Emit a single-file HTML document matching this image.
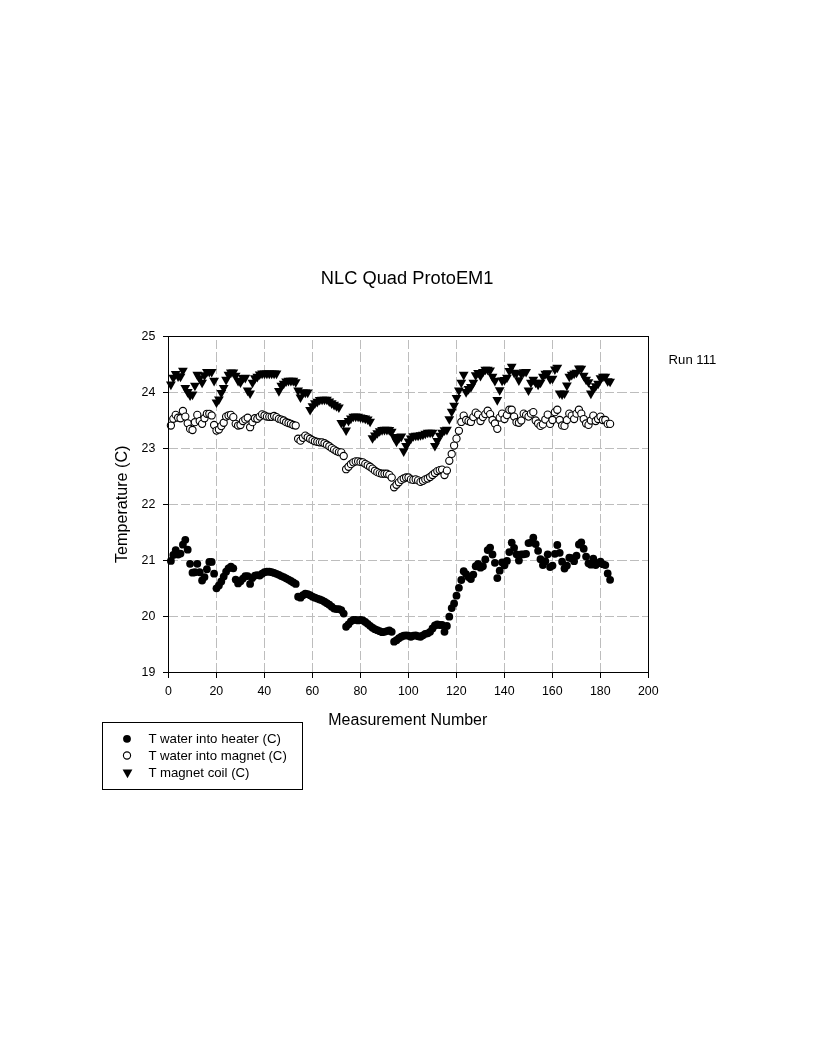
<!DOCTYPE html>
<html lang="en"><head><meta charset="utf-8"><title>NLC Quad ProtoEM1</title>
<style>html,body{margin:0;padding:0;background:#fff}svg{display:block}text{font-family:"Liberation Sans", Arial, Helvetica, sans-serif;fill:#000}</style>
</head><body>
<svg width="816" height="1056" viewBox="0 0 816 1056">
<rect x="0" y="0" width="816" height="1056" fill="#fff"/>
<g stroke="#bdbdbd" stroke-width="1" stroke-dasharray="9.44 3" shape-rendering="crispEdges" fill="none">
<line x1="216.5" y1="672.5" x2="216.5" y2="336.5"/>
<line x1="264.5" y1="672.5" x2="264.5" y2="336.5"/>
<line x1="312.5" y1="672.5" x2="312.5" y2="336.5"/>
<line x1="360.5" y1="672.5" x2="360.5" y2="336.5"/>
<line x1="408.5" y1="672.5" x2="408.5" y2="336.5"/>
<line x1="456.5" y1="672.5" x2="456.5" y2="336.5"/>
<line x1="504.5" y1="672.5" x2="504.5" y2="336.5"/>
<line x1="552.5" y1="672.5" x2="552.5" y2="336.5"/>
<line x1="600.5" y1="672.5" x2="600.5" y2="336.5"/>
<line x1="168.5" y1="616.5" x2="648.5" y2="616.5" stroke-dasharray="9.47 3"/>
<line x1="168.5" y1="560.5" x2="648.5" y2="560.5" stroke-dasharray="9.47 3"/>
<line x1="168.5" y1="504.5" x2="648.5" y2="504.5" stroke-dasharray="9.47 3"/>
<line x1="168.5" y1="448.5" x2="648.5" y2="448.5" stroke-dasharray="9.47 3"/>
<line x1="168.5" y1="392.5" x2="648.5" y2="392.5" stroke-dasharray="9.47 3"/>
</g>
<g fill="#000" stroke="none">
<circle cx="170.90" cy="560.89" r="3.90"/>
<circle cx="173.30" cy="555.01" r="3.90"/>
<circle cx="175.70" cy="550.08" r="3.90"/>
<circle cx="178.10" cy="554.51" r="3.90"/>
<circle cx="180.50" cy="553.56" r="3.90"/>
<circle cx="182.90" cy="544.71" r="3.90"/>
<circle cx="185.30" cy="539.84" r="3.90"/>
<circle cx="187.70" cy="549.64" r="3.90"/>
<circle cx="190.10" cy="563.86" r="3.90"/>
<circle cx="192.50" cy="572.65" r="3.90"/>
<circle cx="194.90" cy="572.26" r="3.90"/>
<circle cx="197.30" cy="563.86" r="3.90"/>
<circle cx="199.70" cy="572.26" r="3.90"/>
<circle cx="202.10" cy="580.49" r="3.90"/>
<circle cx="204.50" cy="577.08" r="3.90"/>
<circle cx="206.90" cy="569.24" r="3.90"/>
<circle cx="209.30" cy="561.90" r="3.90"/>
<circle cx="211.70" cy="561.90" r="3.90"/>
<circle cx="214.10" cy="573.66" r="3.90"/>
<circle cx="216.50" cy="588.33" r="3.90"/>
<circle cx="218.90" cy="585.42" r="3.90"/>
<circle cx="221.30" cy="581.50" r="3.90"/>
<circle cx="223.70" cy="576.57" r="3.90"/>
<circle cx="226.10" cy="571.70" r="3.90"/>
<circle cx="228.50" cy="568.28" r="3.90"/>
<circle cx="230.90" cy="566.77" r="3.90"/>
<circle cx="233.30" cy="568.28" r="3.90"/>
<circle cx="235.70" cy="579.54" r="3.90"/>
<circle cx="238.10" cy="583.46" r="3.90"/>
<circle cx="240.50" cy="581.22" r="3.90"/>
<circle cx="242.90" cy="578.53" r="3.90"/>
<circle cx="245.30" cy="576.12" r="3.90"/>
<circle cx="247.70" cy="576.12" r="3.90"/>
<circle cx="250.10" cy="583.96" r="3.90"/>
<circle cx="252.50" cy="578.08" r="3.90"/>
<circle cx="254.90" cy="575.62" r="3.90"/>
<circle cx="257.30" cy="575.12" r="3.90"/>
<circle cx="259.70" cy="575.62" r="3.90"/>
<circle cx="262.10" cy="573.66" r="3.90"/>
<circle cx="264.50" cy="572.20" r="3.90"/>
<circle cx="266.90" cy="571.70" r="3.90"/>
<circle cx="269.30" cy="571.70" r="3.90"/>
<circle cx="271.70" cy="572.20" r="3.90"/>
<circle cx="274.10" cy="572.88" r="3.90"/>
<circle cx="276.50" cy="573.83" r="3.90"/>
<circle cx="278.90" cy="574.84" r="3.90"/>
<circle cx="281.30" cy="576.12" r="3.90"/>
<circle cx="283.70" cy="577.08" r="3.90"/>
<circle cx="286.10" cy="578.36" r="3.90"/>
<circle cx="288.50" cy="579.54" r="3.90"/>
<circle cx="290.90" cy="581.00" r="3.90"/>
<circle cx="293.30" cy="582.45" r="3.90"/>
<circle cx="295.70" cy="583.96" r="3.90"/>
<circle cx="298.10" cy="596.68" r="3.90"/>
<circle cx="300.50" cy="597.68" r="3.90"/>
<circle cx="302.90" cy="595.22" r="3.90"/>
<circle cx="305.30" cy="593.76" r="3.90"/>
<circle cx="307.70" cy="594.21" r="3.90"/>
<circle cx="310.10" cy="595.22" r="3.90"/>
<circle cx="312.50" cy="596.68" r="3.90"/>
<circle cx="314.90" cy="597.68" r="3.90"/>
<circle cx="317.30" cy="598.58" r="3.90"/>
<circle cx="319.70" cy="599.48" r="3.90"/>
<circle cx="322.10" cy="600.32" r="3.90"/>
<circle cx="324.50" cy="601.77" r="3.90"/>
<circle cx="326.90" cy="603.23" r="3.90"/>
<circle cx="329.30" cy="604.68" r="3.90"/>
<circle cx="331.70" cy="606.64" r="3.90"/>
<circle cx="334.10" cy="608.60" r="3.90"/>
<circle cx="336.50" cy="609.11" r="3.90"/>
<circle cx="338.90" cy="609.11" r="3.90"/>
<circle cx="341.30" cy="610.12" r="3.90"/>
<circle cx="343.70" cy="613.53" r="3.90"/>
<circle cx="346.10" cy="626.75" r="3.90"/>
<circle cx="348.50" cy="624.34" r="3.90"/>
<circle cx="350.90" cy="621.37" r="3.90"/>
<circle cx="353.30" cy="619.92" r="3.90"/>
<circle cx="355.70" cy="619.92" r="3.90"/>
<circle cx="358.10" cy="620.42" r="3.90"/>
<circle cx="360.50" cy="619.92" r="3.90"/>
<circle cx="362.90" cy="620.42" r="3.90"/>
<circle cx="365.30" cy="621.88" r="3.90"/>
<circle cx="367.70" cy="623.84" r="3.90"/>
<circle cx="370.10" cy="625.80" r="3.90"/>
<circle cx="372.50" cy="627.76" r="3.90"/>
<circle cx="374.90" cy="629.21" r="3.90"/>
<circle cx="377.30" cy="630.22" r="3.90"/>
<circle cx="379.70" cy="631.17" r="3.90"/>
<circle cx="382.10" cy="632.18" r="3.90"/>
<circle cx="384.50" cy="631.79" r="3.90"/>
<circle cx="386.90" cy="631.06" r="3.90"/>
<circle cx="389.30" cy="630.33" r="3.90"/>
<circle cx="391.70" cy="631.79" r="3.90"/>
<circle cx="394.10" cy="641.70" r="3.90"/>
<circle cx="396.50" cy="640.19" r="3.90"/>
<circle cx="398.90" cy="638.23" r="3.90"/>
<circle cx="401.30" cy="636.77" r="3.90"/>
<circle cx="403.70" cy="635.76" r="3.90"/>
<circle cx="406.10" cy="635.32" r="3.90"/>
<circle cx="408.50" cy="635.76" r="3.90"/>
<circle cx="410.90" cy="636.77" r="3.90"/>
<circle cx="413.30" cy="635.76" r="3.90"/>
<circle cx="415.70" cy="635.32" r="3.90"/>
<circle cx="418.10" cy="636.27" r="3.90"/>
<circle cx="420.50" cy="636.77" r="3.90"/>
<circle cx="422.90" cy="635.32" r="3.90"/>
<circle cx="425.30" cy="633.80" r="3.90"/>
<circle cx="427.70" cy="633.36" r="3.90"/>
<circle cx="430.10" cy="631.84" r="3.90"/>
<circle cx="432.50" cy="628.43" r="3.90"/>
<circle cx="434.90" cy="625.52" r="3.90"/>
<circle cx="437.30" cy="624.51" r="3.90"/>
<circle cx="439.70" cy="625.01" r="3.90"/>
<circle cx="442.10" cy="625.01" r="3.90"/>
<circle cx="444.50" cy="631.84" r="3.90"/>
<circle cx="446.90" cy="625.96" r="3.90"/>
<circle cx="449.30" cy="616.67" r="3.90"/>
<circle cx="451.70" cy="608.10" r="3.90"/>
<circle cx="454.10" cy="603.45" r="3.90"/>
<circle cx="456.50" cy="595.67" r="3.90"/>
<circle cx="458.90" cy="587.83" r="3.90"/>
<circle cx="461.30" cy="579.99" r="3.90"/>
<circle cx="463.70" cy="571.20" r="3.90"/>
<circle cx="466.10" cy="574.11" r="3.90"/>
<circle cx="468.50" cy="577.08" r="3.90"/>
<circle cx="470.90" cy="579.04" r="3.90"/>
<circle cx="473.30" cy="574.61" r="3.90"/>
<circle cx="475.70" cy="566.27" r="3.90"/>
<circle cx="478.10" cy="563.80" r="3.90"/>
<circle cx="480.50" cy="567.72" r="3.90"/>
<circle cx="482.90" cy="566.27" r="3.90"/>
<circle cx="485.30" cy="559.44" r="3.90"/>
<circle cx="487.70" cy="550.08" r="3.90"/>
<circle cx="490.10" cy="547.62" r="3.90"/>
<circle cx="492.50" cy="554.51" r="3.90"/>
<circle cx="494.90" cy="562.85" r="3.90"/>
<circle cx="497.30" cy="578.03" r="3.90"/>
<circle cx="499.70" cy="570.69" r="3.90"/>
<circle cx="502.10" cy="562.35" r="3.90"/>
<circle cx="504.50" cy="565.32" r="3.90"/>
<circle cx="506.90" cy="560.89" r="3.90"/>
<circle cx="509.30" cy="552.04" r="3.90"/>
<circle cx="511.70" cy="542.58" r="3.90"/>
<circle cx="514.10" cy="547.79" r="3.90"/>
<circle cx="516.50" cy="554.34" r="3.90"/>
<circle cx="518.90" cy="560.50" r="3.90"/>
<circle cx="521.30" cy="554.34" r="3.90"/>
<circle cx="523.70" cy="554.34" r="3.90"/>
<circle cx="526.10" cy="553.84" r="3.90"/>
<circle cx="528.50" cy="543.03" r="3.90"/>
<circle cx="530.90" cy="542.58" r="3.90"/>
<circle cx="533.30" cy="537.65" r="3.90"/>
<circle cx="535.70" cy="544.04" r="3.90"/>
<circle cx="538.10" cy="550.87" r="3.90"/>
<circle cx="540.50" cy="559.21" r="3.90"/>
<circle cx="542.90" cy="565.09" r="3.90"/>
<circle cx="545.30" cy="561.17" r="3.90"/>
<circle cx="547.70" cy="554.34" r="3.90"/>
<circle cx="550.10" cy="567.05" r="3.90"/>
<circle cx="552.50" cy="565.60" r="3.90"/>
<circle cx="554.90" cy="553.84" r="3.90"/>
<circle cx="557.30" cy="544.99" r="3.90"/>
<circle cx="559.70" cy="552.83" r="3.90"/>
<circle cx="562.10" cy="561.68" r="3.90"/>
<circle cx="564.50" cy="568.51" r="3.90"/>
<circle cx="566.90" cy="565.60" r="3.90"/>
<circle cx="569.30" cy="557.76" r="3.90"/>
<circle cx="571.70" cy="558.26" r="3.90"/>
<circle cx="574.10" cy="561.17" r="3.90"/>
<circle cx="576.50" cy="555.74" r="3.90"/>
<circle cx="578.90" cy="544.48" r="3.90"/>
<circle cx="581.30" cy="542.30" r="3.90"/>
<circle cx="583.70" cy="548.74" r="3.90"/>
<circle cx="586.10" cy="556.58" r="3.90"/>
<circle cx="588.50" cy="563.30" r="3.90"/>
<circle cx="590.90" cy="564.70" r="3.90"/>
<circle cx="593.30" cy="558.71" r="3.90"/>
<circle cx="595.70" cy="565.09" r="3.90"/>
<circle cx="598.10" cy="563.13" r="3.90"/>
<circle cx="600.50" cy="561.68" r="3.90"/>
<circle cx="602.90" cy="564.14" r="3.90"/>
<circle cx="605.30" cy="565.09" r="3.90"/>
<circle cx="607.70" cy="573.44" r="3.90"/>
<circle cx="610.10" cy="579.82" r="3.90"/>
</g>
<g fill="#fff" stroke="#000" stroke-width="1.10">
<circle cx="170.90" cy="425.54" r="3.60"/>
<circle cx="173.30" cy="418.82" r="3.60"/>
<circle cx="175.70" cy="414.90" r="3.60"/>
<circle cx="178.10" cy="417.70" r="3.60"/>
<circle cx="180.50" cy="418.26" r="3.60"/>
<circle cx="182.90" cy="410.98" r="3.60"/>
<circle cx="185.30" cy="416.58" r="3.60"/>
<circle cx="187.70" cy="423.30" r="3.60"/>
<circle cx="190.10" cy="428.90" r="3.60"/>
<circle cx="192.50" cy="430.02" r="3.60"/>
<circle cx="194.90" cy="422.18" r="3.60"/>
<circle cx="197.30" cy="414.90" r="3.60"/>
<circle cx="199.70" cy="421.06" r="3.60"/>
<circle cx="202.10" cy="423.86" r="3.60"/>
<circle cx="204.50" cy="418.26" r="3.60"/>
<circle cx="206.90" cy="413.78" r="3.60"/>
<circle cx="209.30" cy="413.78" r="3.60"/>
<circle cx="211.70" cy="415.46" r="3.60"/>
<circle cx="214.10" cy="424.98" r="3.60"/>
<circle cx="216.50" cy="430.58" r="3.60"/>
<circle cx="218.90" cy="429.46" r="3.60"/>
<circle cx="221.30" cy="426.10" r="3.60"/>
<circle cx="223.70" cy="422.74" r="3.60"/>
<circle cx="226.10" cy="416.58" r="3.60"/>
<circle cx="228.50" cy="415.46" r="3.60"/>
<circle cx="230.90" cy="414.90" r="3.60"/>
<circle cx="233.30" cy="417.14" r="3.60"/>
<circle cx="235.70" cy="423.86" r="3.60"/>
<circle cx="238.10" cy="425.54" r="3.60"/>
<circle cx="240.50" cy="424.98" r="3.60"/>
<circle cx="242.90" cy="421.06" r="3.60"/>
<circle cx="245.30" cy="419.38" r="3.60"/>
<circle cx="247.70" cy="417.70" r="3.60"/>
<circle cx="250.10" cy="427.22" r="3.60"/>
<circle cx="252.50" cy="422.18" r="3.60"/>
<circle cx="254.90" cy="418.26" r="3.60"/>
<circle cx="257.30" cy="418.82" r="3.60"/>
<circle cx="259.70" cy="416.58" r="3.60"/>
<circle cx="262.10" cy="414.34" r="3.60"/>
<circle cx="264.50" cy="415.46" r="3.60"/>
<circle cx="266.90" cy="416.58" r="3.60"/>
<circle cx="269.30" cy="416.86" r="3.60"/>
<circle cx="271.70" cy="416.86" r="3.60"/>
<circle cx="274.10" cy="416.02" r="3.60"/>
<circle cx="276.50" cy="417.14" r="3.60"/>
<circle cx="278.90" cy="418.82" r="3.60"/>
<circle cx="281.30" cy="419.66" r="3.60"/>
<circle cx="283.70" cy="420.50" r="3.60"/>
<circle cx="286.10" cy="422.18" r="3.60"/>
<circle cx="288.50" cy="423.02" r="3.60"/>
<circle cx="290.90" cy="423.86" r="3.60"/>
<circle cx="293.30" cy="424.98" r="3.60"/>
<circle cx="295.70" cy="425.54" r="3.60"/>
<circle cx="298.10" cy="438.70" r="3.60"/>
<circle cx="300.50" cy="440.66" r="3.60"/>
<circle cx="302.90" cy="437.86" r="3.60"/>
<circle cx="305.30" cy="435.62" r="3.60"/>
<circle cx="307.70" cy="437.30" r="3.60"/>
<circle cx="310.10" cy="438.70" r="3.60"/>
<circle cx="312.50" cy="440.10" r="3.60"/>
<circle cx="314.90" cy="441.22" r="3.60"/>
<circle cx="317.30" cy="441.78" r="3.60"/>
<circle cx="319.70" cy="442.34" r="3.60"/>
<circle cx="322.10" cy="442.34" r="3.60"/>
<circle cx="324.50" cy="443.24" r="3.60"/>
<circle cx="326.90" cy="444.69" r="3.60"/>
<circle cx="329.30" cy="446.26" r="3.60"/>
<circle cx="331.70" cy="448.11" r="3.60"/>
<circle cx="334.10" cy="449.62" r="3.60"/>
<circle cx="336.50" cy="451.08" r="3.60"/>
<circle cx="338.90" cy="452.08" r="3.60"/>
<circle cx="341.30" cy="452.42" r="3.60"/>
<circle cx="343.70" cy="456.00" r="3.60"/>
<circle cx="346.10" cy="469.22" r="3.60"/>
<circle cx="348.50" cy="466.76" r="3.60"/>
<circle cx="350.90" cy="464.18" r="3.60"/>
<circle cx="353.30" cy="462.33" r="3.60"/>
<circle cx="355.70" cy="461.38" r="3.60"/>
<circle cx="358.10" cy="461.38" r="3.60"/>
<circle cx="360.50" cy="461.94" r="3.60"/>
<circle cx="362.90" cy="462.33" r="3.60"/>
<circle cx="365.30" cy="463.84" r="3.60"/>
<circle cx="367.70" cy="465.30" r="3.60"/>
<circle cx="370.10" cy="466.76" r="3.60"/>
<circle cx="372.50" cy="468.66" r="3.60"/>
<circle cx="374.90" cy="470.68" r="3.60"/>
<circle cx="377.30" cy="472.13" r="3.60"/>
<circle cx="379.70" cy="473.14" r="3.60"/>
<circle cx="382.10" cy="473.70" r="3.60"/>
<circle cx="384.50" cy="473.70" r="3.60"/>
<circle cx="386.90" cy="473.70" r="3.60"/>
<circle cx="389.30" cy="474.82" r="3.60"/>
<circle cx="391.70" cy="477.62" r="3.60"/>
<circle cx="394.10" cy="487.25" r="3.60"/>
<circle cx="396.50" cy="484.79" r="3.60"/>
<circle cx="398.90" cy="482.32" r="3.60"/>
<circle cx="401.30" cy="479.92" r="3.60"/>
<circle cx="403.70" cy="478.46" r="3.60"/>
<circle cx="406.10" cy="477.45" r="3.60"/>
<circle cx="408.50" cy="477.45" r="3.60"/>
<circle cx="410.90" cy="479.41" r="3.60"/>
<circle cx="413.30" cy="479.92" r="3.60"/>
<circle cx="415.70" cy="479.41" r="3.60"/>
<circle cx="418.10" cy="480.42" r="3.60"/>
<circle cx="420.50" cy="481.88" r="3.60"/>
<circle cx="422.90" cy="480.87" r="3.60"/>
<circle cx="425.30" cy="479.41" r="3.60"/>
<circle cx="427.70" cy="478.46" r="3.60"/>
<circle cx="430.10" cy="476.95" r="3.60"/>
<circle cx="432.50" cy="474.99" r="3.60"/>
<circle cx="434.90" cy="473.03" r="3.60"/>
<circle cx="437.30" cy="471.07" r="3.60"/>
<circle cx="439.70" cy="470.12" r="3.60"/>
<circle cx="442.10" cy="469.61" r="3.60"/>
<circle cx="444.50" cy="474.99" r="3.60"/>
<circle cx="446.90" cy="470.56" r="3.60"/>
<circle cx="449.30" cy="460.82" r="3.60"/>
<circle cx="451.70" cy="453.93" r="3.60"/>
<circle cx="454.10" cy="445.53" r="3.60"/>
<circle cx="456.50" cy="438.64" r="3.60"/>
<circle cx="458.90" cy="430.80" r="3.60"/>
<circle cx="461.30" cy="421.96" r="3.60"/>
<circle cx="463.70" cy="415.63" r="3.60"/>
<circle cx="466.10" cy="420.00" r="3.60"/>
<circle cx="468.50" cy="421.06" r="3.60"/>
<circle cx="470.90" cy="421.96" r="3.60"/>
<circle cx="473.30" cy="417.08" r="3.60"/>
<circle cx="475.70" cy="412.66" r="3.60"/>
<circle cx="478.10" cy="414.62" r="3.60"/>
<circle cx="480.50" cy="421.00" r="3.60"/>
<circle cx="482.90" cy="417.08" r="3.60"/>
<circle cx="485.30" cy="414.12" r="3.60"/>
<circle cx="487.70" cy="410.70" r="3.60"/>
<circle cx="490.10" cy="414.12" r="3.60"/>
<circle cx="492.50" cy="420.00" r="3.60"/>
<circle cx="494.90" cy="423.47" r="3.60"/>
<circle cx="497.30" cy="428.84" r="3.60"/>
<circle cx="499.70" cy="417.59" r="3.60"/>
<circle cx="502.10" cy="413.67" r="3.60"/>
<circle cx="504.50" cy="419.04" r="3.60"/>
<circle cx="506.90" cy="415.12" r="3.60"/>
<circle cx="509.30" cy="409.75" r="3.60"/>
<circle cx="511.70" cy="409.75" r="3.60"/>
<circle cx="514.10" cy="416.58" r="3.60"/>
<circle cx="516.50" cy="422.18" r="3.60"/>
<circle cx="518.90" cy="422.74" r="3.60"/>
<circle cx="521.30" cy="420.50" r="3.60"/>
<circle cx="523.70" cy="413.67" r="3.60"/>
<circle cx="526.10" cy="415.12" r="3.60"/>
<circle cx="528.50" cy="416.58" r="3.60"/>
<circle cx="530.90" cy="413.67" r="3.60"/>
<circle cx="533.30" cy="412.16" r="3.60"/>
<circle cx="535.70" cy="420.50" r="3.60"/>
<circle cx="538.10" cy="423.47" r="3.60"/>
<circle cx="540.50" cy="425.88" r="3.60"/>
<circle cx="542.90" cy="424.42" r="3.60"/>
<circle cx="545.30" cy="419.55" r="3.60"/>
<circle cx="547.70" cy="414.62" r="3.60"/>
<circle cx="550.10" cy="423.92" r="3.60"/>
<circle cx="552.50" cy="420.00" r="3.60"/>
<circle cx="554.90" cy="412.16" r="3.60"/>
<circle cx="557.30" cy="409.75" r="3.60"/>
<circle cx="559.70" cy="420.00" r="3.60"/>
<circle cx="562.10" cy="425.43" r="3.60"/>
<circle cx="564.50" cy="425.88" r="3.60"/>
<circle cx="566.90" cy="420.00" r="3.60"/>
<circle cx="569.30" cy="413.67" r="3.60"/>
<circle cx="571.70" cy="415.63" r="3.60"/>
<circle cx="574.10" cy="419.04" r="3.60"/>
<circle cx="576.50" cy="413.67" r="3.60"/>
<circle cx="578.90" cy="409.75" r="3.60"/>
<circle cx="581.30" cy="413.67" r="3.60"/>
<circle cx="583.70" cy="419.04" r="3.60"/>
<circle cx="586.10" cy="423.47" r="3.60"/>
<circle cx="588.50" cy="424.92" r="3.60"/>
<circle cx="590.90" cy="420.50" r="3.60"/>
<circle cx="593.30" cy="415.63" r="3.60"/>
<circle cx="595.70" cy="421.00" r="3.60"/>
<circle cx="598.10" cy="419.04" r="3.60"/>
<circle cx="600.50" cy="416.58" r="3.60"/>
<circle cx="602.90" cy="420.00" r="3.60"/>
<circle cx="605.30" cy="420.00" r="3.60"/>
<circle cx="607.70" cy="423.92" r="3.60"/>
<circle cx="610.10" cy="423.92" r="3.60"/>
</g>
<g fill="#000" stroke="none">
<polygon points="166.00,381.59 175.80,381.59 170.90,390.19"/>
<polygon points="168.40,374.82 178.20,374.82 173.30,383.42"/>
<polygon points="170.80,370.90 180.60,370.90 175.70,379.50"/>
<polygon points="173.20,373.36 183.00,373.36 178.10,381.96"/>
<polygon points="175.60,373.64 185.40,373.64 180.50,382.24"/>
<polygon points="178.00,367.65 187.80,367.65 182.90,376.25"/>
<polygon points="180.40,384.90 190.20,384.90 185.30,393.50"/>
<polygon points="182.80,389.04 192.60,389.04 187.70,397.64"/>
<polygon points="185.20,392.46 195.00,392.46 190.10,401.06"/>
<polygon points="187.60,391.56 197.40,391.56 192.50,400.16"/>
<polygon points="190.00,382.66 199.80,382.66 194.90,391.26"/>
<polygon points="192.40,371.85 202.20,371.85 197.30,380.45"/>
<polygon points="194.80,375.32 204.60,375.32 199.70,383.92"/>
<polygon points="197.20,379.74 207.00,379.74 202.10,388.34"/>
<polygon points="199.60,372.35 209.40,372.35 204.50,380.95"/>
<polygon points="202.00,368.94 211.80,368.94 206.90,377.54"/>
<polygon points="204.40,368.94 214.20,368.94 209.30,377.54"/>
<polygon points="206.80,368.94 216.60,368.94 211.70,377.54"/>
<polygon points="209.20,377.78 219.00,377.78 214.10,386.38"/>
<polygon points="211.60,399.40 221.40,399.40 216.50,408.00"/>
<polygon points="214.00,396.38 223.80,396.38 218.90,404.98"/>
<polygon points="216.40,389.99 226.20,389.99 221.30,398.59"/>
<polygon points="218.80,384.90 228.60,384.90 223.70,393.50"/>
<polygon points="221.20,376.78 231.00,376.78 226.10,385.38"/>
<polygon points="223.60,371.85 233.40,371.85 228.50,380.45"/>
<polygon points="226.00,369.61 235.80,369.61 230.90,378.21"/>
<polygon points="228.40,369.61 238.20,369.61 233.30,378.21"/>
<polygon points="230.80,372.86 240.60,372.86 235.70,381.46"/>
<polygon points="233.20,377.78 243.00,377.78 238.10,386.38"/>
<polygon points="235.60,379.52 245.40,379.52 240.50,388.12"/>
<polygon points="238.00,375.10 247.80,375.10 242.90,383.70"/>
<polygon points="240.40,374.82 250.20,374.82 245.30,383.42"/>
<polygon points="242.80,387.58 252.60,387.58 247.70,396.18"/>
<polygon points="245.20,390.50 255.00,390.50 250.10,399.10"/>
<polygon points="247.60,379.74 257.40,379.74 252.50,388.34"/>
<polygon points="250.00,375.32 259.80,375.32 254.90,383.92"/>
<polygon points="252.40,373.86 262.20,373.86 257.30,382.46"/>
<polygon points="254.80,371.40 264.60,371.40 259.70,380.00"/>
<polygon points="257.20,370.62 267.00,370.62 262.10,379.22"/>
<polygon points="259.60,370.62 269.40,370.62 264.50,379.22"/>
<polygon points="262.00,370.62 271.80,370.62 266.90,379.22"/>
<polygon points="264.40,370.62 274.20,370.62 269.30,379.22"/>
<polygon points="266.80,370.62 276.60,370.62 271.70,379.22"/>
<polygon points="269.20,370.62 279.00,370.62 274.10,379.22"/>
<polygon points="271.60,370.62 281.40,370.62 276.50,379.22"/>
<polygon points="274.00,388.03 283.80,388.03 278.90,396.63"/>
<polygon points="276.40,382.66 286.20,382.66 281.30,391.26"/>
<polygon points="278.80,380.70 288.60,380.70 283.70,389.30"/>
<polygon points="281.20,378.46 291.00,378.46 286.10,387.06"/>
<polygon points="283.60,377.78 293.40,377.78 288.50,386.38"/>
<polygon points="286.00,377.78 295.80,377.78 290.90,386.38"/>
<polygon points="288.40,377.78 298.20,377.78 293.30,386.38"/>
<polygon points="290.80,379.24 300.60,379.24 295.70,387.84"/>
<polygon points="293.20,387.58 303.00,387.58 298.10,396.18"/>
<polygon points="295.60,394.42 305.40,394.42 300.50,403.02"/>
<polygon points="298.00,389.54 307.80,389.54 302.90,398.14"/>
<polygon points="300.40,389.54 310.20,389.54 305.30,398.14"/>
<polygon points="302.80,389.54 312.60,389.54 307.70,398.14"/>
<polygon points="305.20,406.96 315.00,406.96 310.10,415.56"/>
<polygon points="307.60,403.26 317.40,403.26 312.50,411.86"/>
<polygon points="310.00,400.35 319.80,400.35 314.90,408.95"/>
<polygon points="312.40,398.84 322.20,398.84 317.30,407.44"/>
<polygon points="314.80,396.88 324.60,396.88 319.70,405.48"/>
<polygon points="317.20,396.71 327.00,396.71 322.10,405.31"/>
<polygon points="319.60,396.71 329.40,396.71 324.50,405.31"/>
<polygon points="322.00,396.71 331.80,396.71 326.90,405.31"/>
<polygon points="324.40,398.39 334.20,398.39 329.30,406.99"/>
<polygon points="326.80,400.35 336.60,400.35 331.70,408.95"/>
<polygon points="329.20,401.81 339.00,401.81 334.10,410.41"/>
<polygon points="331.60,403.26 341.40,403.26 336.50,411.86"/>
<polygon points="334.00,404.44 343.80,404.44 338.90,413.04"/>
<polygon points="336.40,419.95 346.20,419.95 341.30,428.55"/>
<polygon points="338.80,419.95 348.60,419.95 343.70,428.55"/>
<polygon points="341.20,427.40 351.00,427.40 346.10,436.00"/>
<polygon points="343.60,417.88 353.40,417.88 348.50,426.48"/>
<polygon points="346.00,415.53 355.80,415.53 350.90,424.13"/>
<polygon points="348.40,413.74 358.20,413.74 353.30,422.34"/>
<polygon points="350.80,413.57 360.60,413.57 355.70,422.17"/>
<polygon points="353.20,413.74 363.00,413.74 358.10,422.34"/>
<polygon points="355.60,414.52 365.40,414.52 360.50,423.12"/>
<polygon points="358.00,415.02 367.80,415.02 362.90,423.62"/>
<polygon points="360.40,415.53 370.20,415.53 365.30,424.13"/>
<polygon points="362.80,416.48 372.60,416.48 367.70,425.08"/>
<polygon points="365.20,418.72 375.00,418.72 370.10,427.32"/>
<polygon points="367.60,435.24 377.40,435.24 372.50,443.84"/>
<polygon points="370.00,432.44 379.80,432.44 374.90,441.04"/>
<polygon points="372.40,430.20 382.20,430.20 377.30,438.80"/>
<polygon points="374.80,428.24 384.60,428.24 379.70,436.84"/>
<polygon points="377.20,427.12 387.00,427.12 382.10,435.72"/>
<polygon points="379.60,426.78 389.40,426.78 384.50,435.38"/>
<polygon points="382.00,426.78 391.80,426.78 386.90,435.38"/>
<polygon points="384.40,427.06 394.20,427.06 389.30,435.66"/>
<polygon points="386.80,428.74 396.60,428.74 391.70,437.34"/>
<polygon points="389.20,434.12 399.00,434.12 394.10,442.72"/>
<polygon points="391.60,438.60 401.40,438.60 396.50,447.20"/>
<polygon points="394.00,435.13 403.80,435.13 398.90,443.73"/>
<polygon points="396.40,433.62 406.20,433.62 401.30,442.22"/>
<polygon points="398.80,448.34 408.60,448.34 403.70,456.94"/>
<polygon points="401.20,442.97 411.00,442.97 406.10,451.57"/>
<polygon points="403.60,438.54 413.40,438.54 408.50,447.14"/>
<polygon points="406.00,435.58 415.80,435.58 410.90,444.18"/>
<polygon points="408.40,433.17 418.20,433.17 413.30,441.77"/>
<polygon points="410.80,432.66 420.60,432.66 415.70,441.26"/>
<polygon points="413.20,432.66 423.00,432.66 418.10,441.26"/>
<polygon points="415.60,432.16 425.40,432.16 420.50,440.76"/>
<polygon points="418.00,431.66 427.80,431.66 422.90,440.26"/>
<polygon points="420.40,430.70 430.20,430.70 425.30,439.30"/>
<polygon points="422.80,429.70 432.60,429.70 427.70,438.30"/>
<polygon points="425.20,429.70 435.00,429.70 430.10,438.30"/>
<polygon points="427.60,429.70 437.40,429.70 432.50,438.30"/>
<polygon points="430.00,442.97 439.80,442.97 434.90,451.57"/>
<polygon points="432.40,438.04 442.20,438.04 437.30,446.64"/>
<polygon points="434.80,432.66 444.60,432.66 439.70,441.26"/>
<polygon points="437.20,429.70 447.00,429.70 442.10,438.30"/>
<polygon points="439.60,427.29 449.40,427.29 444.50,435.89"/>
<polygon points="442.00,426.78 451.80,426.78 446.90,435.38"/>
<polygon points="444.40,416.20 454.20,416.20 449.30,424.80"/>
<polygon points="446.80,408.64 456.60,408.64 451.70,417.24"/>
<polygon points="449.20,402.76 459.00,402.76 454.10,411.36"/>
<polygon points="451.60,394.92 461.40,394.92 456.50,403.52"/>
<polygon points="454.00,387.58 463.80,387.58 458.90,396.18"/>
<polygon points="456.40,379.74 466.20,379.74 461.30,388.34"/>
<polygon points="458.80,371.85 468.60,371.85 463.70,380.45"/>
<polygon points="461.20,389.04 471.00,389.04 466.10,397.64"/>
<polygon points="463.60,386.07 473.40,386.07 468.50,394.67"/>
<polygon points="466.00,384.11 475.80,384.11 470.90,392.71"/>
<polygon points="468.40,379.74 478.20,379.74 473.30,388.34"/>
<polygon points="470.80,372.35 480.60,372.35 475.70,380.95"/>
<polygon points="473.20,369.89 483.00,369.89 478.10,378.49"/>
<polygon points="475.60,372.86 485.40,372.86 480.50,381.46"/>
<polygon points="478.00,368.94 487.80,368.94 482.90,377.54"/>
<polygon points="480.40,366.70 490.20,366.70 485.30,375.30"/>
<polygon points="482.80,366.70 492.60,366.70 487.70,375.30"/>
<polygon points="485.20,367.48 495.00,367.48 490.10,376.08"/>
<polygon points="487.60,373.86 497.40,373.86 492.50,382.46"/>
<polygon points="490.00,377.78 499.80,377.78 494.90,386.38"/>
<polygon points="492.40,397.05 502.20,397.05 497.30,405.65"/>
<polygon points="494.80,387.25 504.60,387.25 499.70,395.85"/>
<polygon points="497.20,377.56 507.00,377.56 502.10,386.16"/>
<polygon points="499.60,377.00 509.40,377.00 504.50,385.60"/>
<polygon points="502.00,374.76 511.80,374.76 506.90,383.36"/>
<polygon points="504.40,367.93 514.20,367.93 509.30,376.53"/>
<polygon points="506.80,363.73 516.60,363.73 511.70,372.33"/>
<polygon points="509.20,369.72 519.00,369.72 514.10,378.32"/>
<polygon points="511.60,370.28 521.40,370.28 516.50,378.88"/>
<polygon points="514.00,377.28 523.80,377.28 518.90,385.88"/>
<polygon points="516.40,370.84 526.20,370.84 521.30,379.44"/>
<polygon points="518.80,369.16 528.60,369.16 523.70,377.76"/>
<polygon points="521.20,368.88 531.00,368.88 526.10,377.48"/>
<polygon points="523.60,387.47 533.40,387.47 528.50,396.07"/>
<polygon points="526.00,379.63 535.80,379.63 530.90,388.23"/>
<polygon points="528.40,376.72 538.20,376.72 533.30,385.32"/>
<polygon points="530.80,379.63 540.60,379.63 535.70,388.23"/>
<polygon points="533.20,381.59 543.00,381.59 538.10,390.19"/>
<polygon points="535.60,379.63 545.40,379.63 540.50,388.23"/>
<polygon points="538.00,373.75 547.80,373.75 542.90,382.35"/>
<polygon points="540.40,370.84 550.20,370.84 545.30,379.44"/>
<polygon points="542.80,370.34 552.60,370.34 547.70,378.94"/>
<polygon points="545.20,376.22 555.00,376.22 550.10,384.82"/>
<polygon points="547.60,375.71 557.40,375.71 552.50,384.31"/>
<polygon points="550.00,366.42 559.80,366.42 554.90,375.02"/>
<polygon points="552.40,364.68 562.20,364.68 557.30,373.28"/>
<polygon points="554.80,390.44 564.60,390.44 559.70,399.04"/>
<polygon points="557.20,391.28 567.00,391.28 562.10,399.88"/>
<polygon points="559.60,390.44 569.40,390.44 564.50,399.04"/>
<polygon points="562.00,382.60 571.80,382.60 566.90,391.20"/>
<polygon points="564.40,373.75 574.20,373.75 569.30,382.35"/>
<polygon points="566.80,371.79 576.60,371.79 571.70,380.39"/>
<polygon points="569.20,370.56 579.00,370.56 574.10,379.16"/>
<polygon points="571.60,369.72 581.40,369.72 576.50,378.32"/>
<polygon points="574.00,365.58 583.80,365.58 578.90,374.18"/>
<polygon points="576.40,365.74 586.20,365.74 581.30,374.34"/>
<polygon points="578.80,372.80 588.60,372.80 583.70,381.40"/>
<polygon points="581.20,376.72 591.00,376.72 586.10,385.32"/>
<polygon points="583.60,379.13 593.40,379.13 588.50,387.73"/>
<polygon points="586.00,390.61 595.80,390.61 590.90,399.21"/>
<polygon points="588.40,386.02 598.20,386.02 593.30,394.62"/>
<polygon points="590.80,383.16 600.60,383.16 595.70,391.76"/>
<polygon points="593.20,380.64 603.00,380.64 598.10,389.24"/>
<polygon points="595.60,375.21 605.40,375.21 600.50,383.81"/>
<polygon points="598.00,373.75 607.80,373.75 602.90,382.35"/>
<polygon points="600.40,373.75 610.20,373.75 605.30,382.35"/>
<polygon points="602.80,378.18 612.60,378.18 607.70,386.78"/>
<polygon points="605.20,378.68 615.00,378.68 610.10,387.28"/>
</g>
<g stroke="#000" stroke-width="1" fill="none" shape-rendering="crispEdges">
<rect x="168.5" y="336.5" width="480" height="336"/>
<line x1="168.5" y1="672.5" x2="168.5" y2="678"/>
<line x1="216.5" y1="672.5" x2="216.5" y2="678"/>
<line x1="264.5" y1="672.5" x2="264.5" y2="678"/>
<line x1="312.5" y1="672.5" x2="312.5" y2="678"/>
<line x1="360.5" y1="672.5" x2="360.5" y2="678"/>
<line x1="408.5" y1="672.5" x2="408.5" y2="678"/>
<line x1="456.5" y1="672.5" x2="456.5" y2="678"/>
<line x1="504.5" y1="672.5" x2="504.5" y2="678"/>
<line x1="552.5" y1="672.5" x2="552.5" y2="678"/>
<line x1="600.5" y1="672.5" x2="600.5" y2="678"/>
<line x1="648.5" y1="672.5" x2="648.5" y2="678"/>
<line x1="163" y1="672.5" x2="168.5" y2="672.5"/>
<line x1="163" y1="616.5" x2="168.5" y2="616.5"/>
<line x1="163" y1="560.5" x2="168.5" y2="560.5"/>
<line x1="163" y1="504.5" x2="168.5" y2="504.5"/>
<line x1="163" y1="448.5" x2="168.5" y2="448.5"/>
<line x1="163" y1="392.5" x2="168.5" y2="392.5"/>
<line x1="163" y1="336.5" x2="168.5" y2="336.5"/>
</g>
<g font-size="13.2px">
<text x="164.9" y="694.7" textLength="6.9" lengthAdjust="spacingAndGlyphs">0</text>
<text x="209.4" y="694.7" textLength="13.8" lengthAdjust="spacingAndGlyphs">20</text>
<text x="257.4" y="694.7" textLength="13.8" lengthAdjust="spacingAndGlyphs">40</text>
<text x="305.4" y="694.7" textLength="13.8" lengthAdjust="spacingAndGlyphs">60</text>
<text x="353.4" y="694.7" textLength="13.8" lengthAdjust="spacingAndGlyphs">80</text>
<text x="397.9" y="694.7" textLength="20.7" lengthAdjust="spacingAndGlyphs">100</text>
<text x="445.9" y="694.7" textLength="20.7" lengthAdjust="spacingAndGlyphs">120</text>
<text x="493.9" y="694.7" textLength="20.7" lengthAdjust="spacingAndGlyphs">140</text>
<text x="541.9" y="694.7" textLength="20.7" lengthAdjust="spacingAndGlyphs">160</text>
<text x="589.9" y="694.7" textLength="20.7" lengthAdjust="spacingAndGlyphs">180</text>
<text x="637.9" y="694.7" textLength="20.7" lengthAdjust="spacingAndGlyphs">200</text>
<text x="141.6" y="676.1" textLength="13.8" lengthAdjust="spacingAndGlyphs">19</text>
<text x="141.6" y="620.1" textLength="13.8" lengthAdjust="spacingAndGlyphs">20</text>
<text x="141.6" y="564.1" textLength="13.8" lengthAdjust="spacingAndGlyphs">21</text>
<text x="141.6" y="508.1" textLength="13.8" lengthAdjust="spacingAndGlyphs">22</text>
<text x="141.6" y="452.1" textLength="13.8" lengthAdjust="spacingAndGlyphs">23</text>
<text x="141.6" y="396.1" textLength="13.8" lengthAdjust="spacingAndGlyphs">24</text>
<text x="141.6" y="340.1" textLength="13.8" lengthAdjust="spacingAndGlyphs">25</text>
</g>
<text x="320.8" y="283.7" font-size="18px" textLength="172.7" lengthAdjust="spacingAndGlyphs">NLC Quad ProtoEM1</text>
<text x="328.3" y="725" font-size="16px" textLength="159" lengthAdjust="spacingAndGlyphs">Measurement Number</text>
<text transform="translate(126.9 563.1) rotate(-90)" font-size="16px" textLength="117.6" lengthAdjust="spacingAndGlyphs">Temperature (C)</text>
<text x="668.6" y="363.7" font-size="12.5px" textLength="47.7" lengthAdjust="spacingAndGlyphs">Run 111</text>
<rect x="102.5" y="722.5" width="200" height="66.5" fill="#fff" stroke="#000" stroke-width="1" shape-rendering="crispEdges"/>
<circle cx="127" cy="738.8" r="3.90" fill="#000"/>
<circle cx="127" cy="755.5" r="3.60" fill="#fff" stroke="#000" stroke-width="1.10"/>
<polygon points="122.60,769.60 132.40,769.60 127.50,778.20" fill="#000"/>
<g font-size="13px">
<text x="148.4" y="743.2" textLength="132.5" lengthAdjust="spacingAndGlyphs">T water into heater (C)</text>
<text x="148.4" y="759.9" textLength="138.4" lengthAdjust="spacingAndGlyphs">T water into magnet (C)</text>
<text x="148.4" y="776.8" textLength="101.1" lengthAdjust="spacingAndGlyphs">T magnet coil (C)</text>
</g>
</svg>
</body></html>
